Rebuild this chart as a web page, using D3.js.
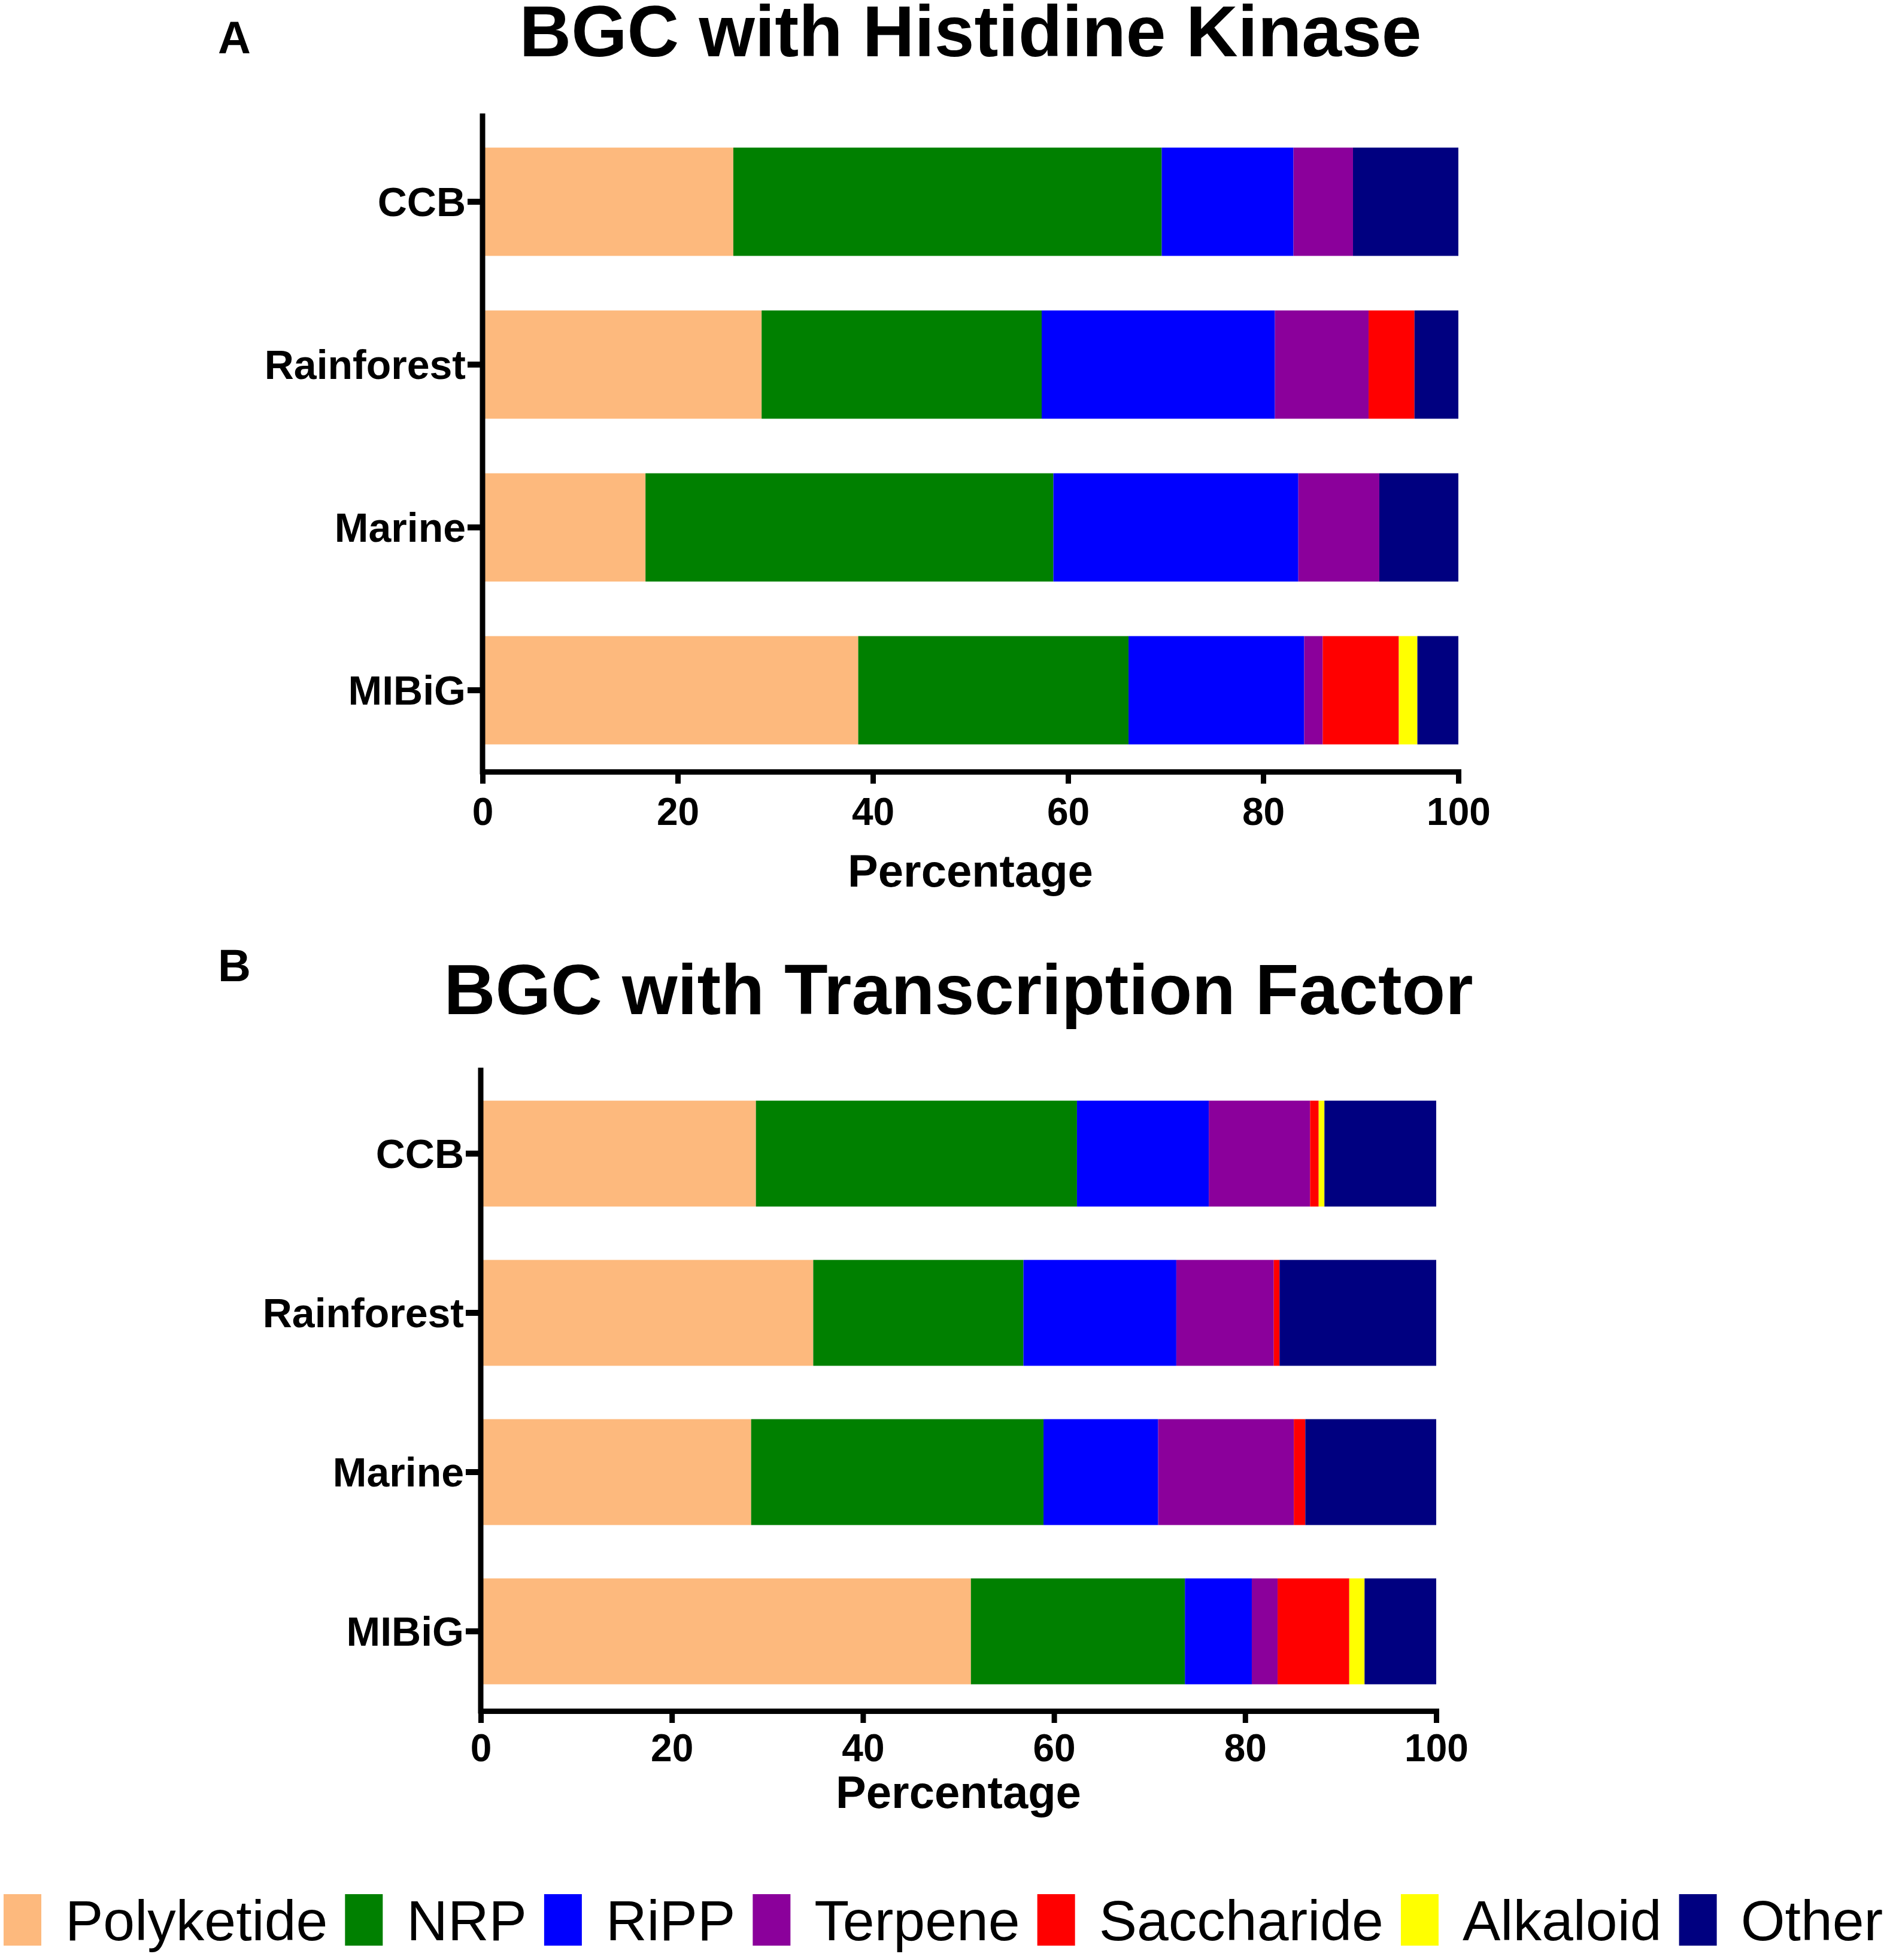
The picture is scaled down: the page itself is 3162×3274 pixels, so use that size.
<!DOCTYPE html>
<html>
<head>
<meta charset="utf-8">
<script src="https://cdn.jsdelivr.net/npm/d3@7"></script>
<style>
  body { margin: 0; background: #fff; }
  svg text { font-family: "Liberation Sans", Arial, Helvetica, sans-serif; fill: #000; }
  .axis text { font-weight: bold; }
</style>
</head>
<body>
<div id="chart"></div>
<script>
// categories (top to bottom) and BGC classes
var categories = ["CCB", "Rainforest", "Marine", "MIBiG"];
var classes = ["Polyketide", "NRP", "RiPP", "Terpene", "Saccharide", "Alkaloid", "Other"];
var classColors = ["#fdb97d", "#008000", "#0000ff", "#8b009b", "#ff0000", "#ffff00", "#000080"];
var xTicks = [0, 20, 40, 60, 80, 100];

// Panel A: BGC with Histidine Kinase (% per class, in class order)
var hkCCB        = [25.7, 43.9, 13.5, 6.1, 0.0, 0.0, 10.8];
var hkRainforest = [28.6, 28.7, 23.9, 9.6, 4.7, 0.0, 4.5];
var hkMarine     = [16.7, 41.8, 25.1, 8.3, 0.0, 0.0, 8.1];
var hkMIBiG      = [38.5, 27.7, 18.0, 1.9, 7.8, 1.9, 4.2];

// Panel B: BGC with Transcription Factor
var tfCCB        = [28.8, 33.6, 13.8, 10.6, 0.9, 0.6, 11.7];
var tfRainforest = [34.8, 22.0, 16.0, 10.2, 0.6, 0.0, 16.4];
var tfMarine     = [28.3, 30.6, 12.0, 14.2, 1.2, 0.0, 13.7];
var tfMIBiG      = [51.3, 22.4, 7.0, 2.7, 7.5, 1.6, 7.5];

var width = 3162, height = 3274;

var svg = d3.select("#chart")
  .append("svg")
  .attr("width", width)
  .attr("height", height);

function toRows(list) {
  return list.map(function(vals, i) {
    var row = { cat: categories[i] };
    classes.forEach(function(c, j) { row[c] = vals[j]; });
    return row;
  });
}

var color = d3.scaleOrdinal().domain(classes).range(classColors);

function drawPanel(p) {
  var g = svg.append("g");
  var rows = toRows(p.data);
  var series = d3.stack().keys(classes)(rows);

  var x = d3.scaleLinear().domain([0, 100]).range([p.x0, p.x1]);
  var y = d3.scaleBand()
    .domain(categories)
    .range([p.yTop, p.yBottom])
    .paddingInner(0.335)
    .paddingOuter(0.335 / 2);

  // bars
  g.selectAll("g.layer")
    .data(series)
    .enter()
    .append("g")
    .attr("class", "layer")
    .attr("fill", function(d) { return color(d.key); })
    .selectAll("rect")
    .data(function(d) { return d; })
    .enter()
    .append("rect")
    .attr("x", function(d) { return x(d[0]); })
    .attr("width", function(d) { return x(d[1]) - x(d[0]); })
    .attr("y", function(d) { return y(d.data.cat); })
    .attr("height", y.bandwidth());

  // x axis
  var xAxis = d3.axisBottom(x)
    .tickValues(xTicks)
    .tickSize(20)
    .tickSizeOuter(0)
    .tickPadding(p.tickPad);
  var gx = g.append("g")
    .attr("class", "axis")
    .attr("transform", "translate(0," + p.yBottom + ")")
    .call(xAxis);
  gx.select(".domain").attr("stroke-width", 9).attr("stroke-linecap", "square");
  gx.selectAll(".tick line").attr("stroke-width", 9);
  gx.selectAll(".tick text").attr("font-size", 64);

  // y axis
  var yAxis = d3.axisLeft(y).tickSize(25).tickSizeOuter(0).tickPadding(3);
  var gy = g.append("g")
    .attr("class", "axis")
    .attr("transform", "translate(" + p.x0 + ",0)")
    .call(yAxis);
  gy.select(".domain").remove();
  gy.selectAll(".tick line").attr("stroke-width", 10);
  gy.selectAll(".tick text").attr("font-size", 68).attr("dy", "0.36em");
  gy.append("line")
    .attr("x1", 0).attr("x2", 0)
    .attr("y1", p.axisTop).attr("y2", p.yBottom)
    .attr("stroke", "#000")
    .attr("stroke-width", 9)
    .attr("stroke-linecap", "square");

  // titles
  g.append("text")
    .attr("x", (p.x0 + p.x1) / 2)
    .attr("y", p.titleY)
    .attr("text-anchor", "middle")
    .attr("font-size", p.titleSize)
    .attr("font-weight", "bold")
    .text(p.title);

  g.append("text")
    .attr("x", 364)
    .attr("y", p.letterY)
    .attr("font-size", 76)
    .attr("font-weight", "bold")
    .text(p.letter);

  g.append("text")
    .attr("x", (p.x0 + p.x1) / 2)
    .attr("y", p.xLabelY)
    .attr("text-anchor", "middle")
    .attr("font-size", 76)
    .attr("font-weight", "bold")
    .text("Percentage");
}

drawPanel({
  data: [hkCCB, hkRainforest, hkMarine, hkMIBiG],
  title: "BGC with Histidine Kinase", letter: "A", titleSize: 120,
  x0: 806, x1: 2436, yTop: 201, yBottom: 1289, axisTop: 194,
  titleY: 94, letterY: 89, xLabelY: 1481, tickPad: 24
});

drawPanel({
  data: [tfCCB, tfRainforest, tfMarine, tfMIBiG],
  title: "BGC with Transcription Factor", letter: "B", titleSize: 119,
  x0: 803, x1: 2399, yTop: 1794, yBottom: 2858, axisTop: 1788,
  titleY: 1694, letterY: 1639, xLabelY: 3020, tickPad: 19
});

// legend: flowed left to right
var legend = svg.append("g").attr("class", "legend");
var lx = 6;
classes.forEach(function(c) {
  legend.append("rect")
    .attr("x", lx)
    .attr("y", 3164)
    .attr("width", 63)
    .attr("height", 86)
    .attr("fill", color(c));
  var t = legend.append("text")
    .attr("x", lx + 63 + 40)
    .attr("y", 3241)
    .attr("font-size", 95)
    .text(c);
  lx = lx + 63 + 40 + t.node().getComputedTextLength() + 29;
});
</script>
</body>
</html>
